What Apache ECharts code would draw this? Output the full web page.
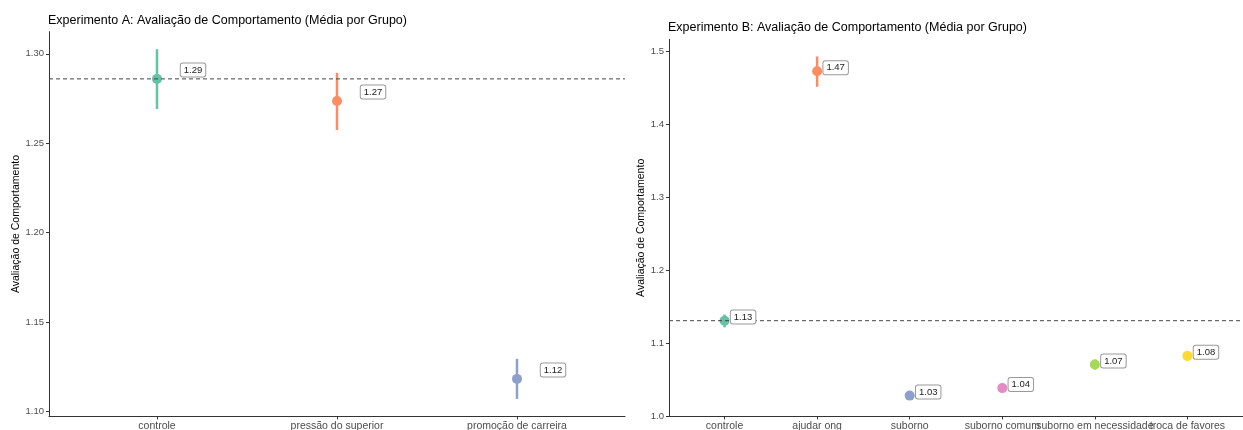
<!DOCTYPE html>
<html>
<head>
<meta charset="utf-8">
<script src="https://cdn.jsdelivr.net/npm/echarts@6/dist/echarts.min.js"></script>
<style>
  html, body { margin: 0; padding: 0; background: #fff; }
  #chart { width: 1243px; height: 430px; }
</style>
</head>
<body>
<div id="chart"></div>
<script>
// Experimento A: group means with confidence intervals
const catsA = ['controle', 'pressão do superior', 'promoção de carreira'];
const meanA = [1.2860, 1.2736, 1.1183];
const lowA  = [1.2692, 1.2574, 1.1071];
const highA = [1.3026, 1.2894, 1.1295];
const ticksA = [1.10, 1.15, 1.20, 1.25, 1.30];

// Experimento B: group means with confidence intervals
const catsB = ['controle', 'ajudar ong', 'suborno', 'suborno comum', 'suborno em necessidade', 'troca de favores'];
const meanB = [1.1306, 1.4728, 1.0278, 1.0381, 1.0704, 1.0823];
const lowB  = [1.1215, 1.4515, 1.0228, 1.0331, 1.0634, 1.0753];
const highB = [1.1390, 1.4932, 1.0328, 1.0431, 1.0774, 1.0893];
const ticksB = [1.0, 1.1, 1.2, 1.3, 1.4, 1.5];

const palette = ['#66C2A5', '#FC8D62', '#8DA0CB', '#E78AC3', '#A6D854', '#FFD92F'];
const FONT = 'Liberation Sans, Arial, Helvetica, sans-serif';

const chart = echarts.init(document.getElementById('chart'), null, { renderer: 'canvas' });

// y range padded by 5% of the interval span, as in the source plots
function padRange(lo, hi) {
  const a = Math.min(...lo), b = Math.max(...hi), d = (b - a) * 0.05;
  return [a - d, b + d];
}
const rangeA = padRange(lowA, highA);
const rangeB = padRange(lowB, highB);

// x axis over group positions 0..n-1; labelIdx picks which names it prints,
// so crowded neighbours can be split across two stacked axes and all stay visible
function xAxisFor(gridIndex, cats, labelIdx, withLine) {
  const idx = cats.map((_, i) => i);
  return {
    type: 'value', gridIndex: gridIndex, position: 'bottom', offset: 0,
    min: -0.6, max: cats.length - 0.4,
    splitLine: { show: false },
    axisLine: { show: withLine, onZero: false, lineStyle: { color: '#333', width: 1 } },
    axisTick: { show: withLine, customValues: idx, length: 3, lineStyle: { color: '#333' } },
    axisLabel: {
      customValues: labelIdx, formatter: v => cats[Math.round(v)],
      hideOverlap: false, showMinLabel: true, showMaxLabel: true,
      fontSize: 10.5, color: '#4d4d4d', fontFamily: FONT, margin: 4
    }
  };
}

function yAxisFor(gridIndex, range, ticks, digits, gap) {
  return {
    type: 'value', gridIndex: gridIndex,
    min: range[0], max: range[1],
    splitLine: { show: false },
    axisLine: { show: true, onZero: false, lineStyle: { color: '#333', width: 1 } },
    axisTick: { show: true, customValues: ticks, length: 3, lineStyle: { color: '#333' } },
    axisLabel: {
      customValues: ticks, formatter: v => v.toFixed(digits),
      hideOverlap: false,
      fontSize: 9.5, color: '#4d4d4d', fontFamily: FONT, margin: 5
    },
    name: 'Avaliação de Comportamento', nameLocation: 'middle', nameGap: gap,
    nameTextStyle: { fontSize: 10.5, color: '#000', fontFamily: FONT }
  };
}

function panelSeries(xi, yi, cats, mean, low, high) {
  const n = cats.length;
  return [
    {
      // error bars
      type: 'custom', xAxisIndex: xi, yAxisIndex: yi, z: 2,
      data: cats.map((_, i) => [i, low[i], high[i]]),
      renderItem: function (params, api) {
        const p1 = api.coord([api.value(0), api.value(1)]);
        const p2 = api.coord([api.value(0), api.value(2)]);
        return {
          type: 'line',
          shape: { x1: p1[0], y1: p1[1], x2: p2[0], y2: p2[1] },
          style: { stroke: palette[params.dataIndex], lineWidth: 2.5 }
        };
      }
    },
    {
      // group means
      type: 'scatter', xAxisIndex: xi, yAxisIndex: yi, z: 3,
      symbol: 'circle', symbolSize: 10,
      data: cats.map((_, i) => ({ value: [i, mean[i]], itemStyle: { color: palette[i], opacity: 1 } }))
    },
    {
      // reference line at the control mean
      type: 'custom', xAxisIndex: xi, yAxisIndex: yi, z: 4,
      data: [[mean[0]]],
      renderItem: function (params, api) {
        const v = api.value(0);
        const a = api.coord([-0.6, v]);
        const b = api.coord([n - 0.4, v]);
        return {
          type: 'line',
          shape: { x1: a[0], y1: a[1], x2: b[0], y2: b[1] },
          style: { stroke: '#444', lineWidth: 1, lineDash: [4, 3] }
        };
      }
    },
    {
      // value labels, nudged right and up
      type: 'custom', xAxisIndex: xi, yAxisIndex: yi, z: 5,
      data: cats.map((_, i) => [i + 0.2, mean[i] + 0.005, mean[i]]),
      renderItem: function (params, api) {
        const p = api.coord([api.value(0), api.value(1)]);
        return {
          type: 'text', x: p[0], y: p[1],
          style: {
            text: api.value(2).toFixed(2),
            font: '9.5px ' + FONT, fill: '#222',
            align: 'center', verticalAlign: 'middle',
            backgroundColor: '#fff', borderColor: '#999', borderWidth: 1,
            borderRadius: 2, padding: [2, 3, 1, 3]
          }
        };
      }
    }
  ];
}

const idxA = catsA.map((_, i) => i);
const evenB = catsB.map((_, i) => i).filter(i => i % 2 === 0);
const oddB = catsB.map((_, i) => i).filter(i => i % 2 === 1);

chart.setOption({
  animation: false,
  backgroundColor: '#fff',
  title: [
    {
      text: 'Experimento A: Avaliação de Comportamento (Média por Grupo)',
      left: 48, top: 14, padding: 0,
      textStyle: { fontSize: 12.5, fontWeight: 'normal', color: '#000', fontFamily: FONT }
    },
    {
      text: 'Experimento B: Avaliação de Comportamento (Média por Grupo)',
      left: 668, top: 21.5, padding: 0,
      textStyle: { fontSize: 12.5, fontWeight: 'normal', color: '#000', fontFamily: FONT }
    }
  ],
  grid: [
    { left: 49, top: 31.7, width: 576, height: 384.7, containLabel: false, outerBoundsMode: 'none' },
    { left: 669, top: 39.3, width: 574, height: 377.1, containLabel: false, outerBoundsMode: 'none' }
  ],
  xAxis: [
    xAxisFor(0, catsA, idxA, true),
    xAxisFor(1, catsB, evenB, true),
    xAxisFor(1, catsB, oddB, false)
  ],
  yAxis: [yAxisFor(0, rangeA, ticksA, 2, 27), yAxisFor(1, rangeB, ticksB, 1, 19)],
  series: [].concat(
    panelSeries(0, 0, catsA, meanA, lowA, highA),
    panelSeries(1, 1, catsB, meanB, lowB, highB)
  )
});
</script>
</body>
</html>
